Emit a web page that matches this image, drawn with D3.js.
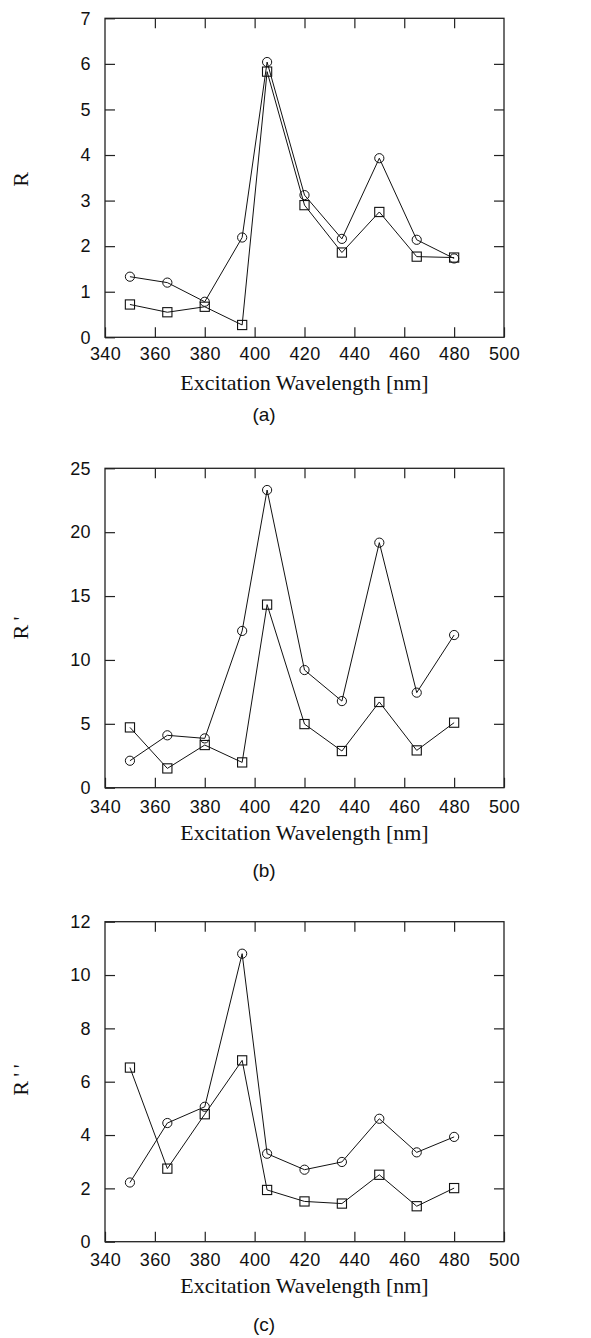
<!DOCTYPE html>
<html>
<head>
    <title>Excitation Wavelength</title>
    <script src="https://d3js.org/d3.v7.min.js"></script>
    <style>
        body { margin: 0; background: #fff; }
        svg { display: block; }
    </style>
</head>
<body>
    <script>
        // wavelengths shared by all three panels
        var wavelengths = [350, 365, 380, 395, 405, 420, 435, 450, 465, 480];
        var xTicks = [340, 360, 380, 400, 420, 440, 460, 480, 500];

        var circlesA = [1.33, 1.20, 0.78, 2.19, 6.04, 3.12, 2.16, 3.93, 2.14, 1.73];
        var squaresA = [0.72, 0.55, 0.67, 0.27, 5.83, 2.90, 1.86, 2.75, 1.77, 1.75];
        var yTicksA = [0, 1, 2, 3, 4, 5, 6, 7];

        var circlesB = [2.11, 4.10, 3.86, 12.27, 23.3, 9.21, 6.78, 19.18, 7.44, 11.95];
        var squaresB = [4.72, 1.51, 3.34, 1.98, 14.33, 4.98, 2.87, 6.71, 2.92, 5.09];
        var yTicksB = [0, 5, 10, 15, 20, 25];

        var circlesC = [2.22, 4.45, 5.06, 10.8, 3.30, 2.70, 2.99, 4.61, 3.35, 3.93];
        var squaresC = [6.53, 2.74, 4.78, 6.80, 1.94, 1.51, 1.43, 2.51, 1.33, 2.01];
        var yTicksC = [0, 2, 4, 6, 8, 10, 12];

        var yLabels = ["R", "R\u2009'", "R\u2009'\u2009'"];
        var captions = ["(a)", "(b)", "(c)"];
        var xTitle = "Excitation Wavelength [nm]";

        var width = 591, height = 1338;
        var left = 105, right = 504;

        var svg = d3.select("body").append("svg")
            .attr("width", width)
            .attr("height", height);

        // layout of each panel (pixel positions)
        var panels = [
            { c: circlesA, s: squaresA, ticks: yTicksA, top: 18.3, bottom: 337.3, padX: 9.5, titleY: 390, capY: 421, labelY: 179.5 },
            { c: circlesB, s: squaresB, ticks: yTicksB, top: 468.3, bottom: 787.7, padX: 13, titleY: 840, capY: 876.5, labelY: 628 },
            { c: circlesC, s: squaresC, ticks: yTicksC, top: 921.7, bottom: 1241.7, padX: 11.3, titleY: 1293, capY: 1331, labelY: 1080 }
        ];

        var x = d3.scaleLinear().domain([340, 500]).range([left, right]);

        function drawPanel(p, i) {
            var yMax = p.ticks[p.ticks.length - 1];
            var y = d3.scaleLinear().domain([0, yMax]).range([p.bottom, p.top]);
            var g = svg.append("g");

            var sans = "'Liberation Sans', Arial, Helvetica, sans-serif";
            var serif = "'Liberation Serif', 'Times New Roman', serif";

            // axes with inward ticks
            var bottomAxis = d3.axisBottom(x).tickValues(xTicks).tickFormat(d3.format("d"))
                .tickSizeInner(-10).tickSizeOuter(0).tickPadding(p.padX);
            var topAxis = d3.axisTop(x).tickValues(xTicks.slice(1, -1)).tickFormat("")
                .tickSizeInner(-10).tickSizeOuter(0);
            var leftAxis = d3.axisLeft(y).tickValues(p.ticks).tickFormat(d3.format("d"))
                .tickSizeInner(-10).tickSizeOuter(0).tickPadding(14);
            var rightAxis = d3.axisRight(y).tickValues(p.ticks.slice(1, -1)).tickFormat("")
                .tickSizeInner(-10).tickSizeOuter(0);

            [
                [bottomAxis, "translate(0," + p.bottom + ")"],
                [topAxis, "translate(0," + p.top + ")"],
                [leftAxis, "translate(" + left + ",0)"],
                [rightAxis, "translate(" + right + ",0)"]
            ].forEach(function (a) {
                var ax = g.append("g").attr("transform", a[1]).call(a[0]);
                ax.select(".domain").remove();
                ax.selectAll(".tick line").attr("stroke", "#222").attr("stroke-width", 1.2);
                ax.selectAll("text")
                    .attr("fill", "#111")
                    .style("font-family", sans)
                    .style("font-size", "18px")
                    .style("letter-spacing", "0.4px");
            });

            // frame
            g.append("rect")
                .attr("x", left).attr("y", p.top)
                .attr("width", right - left).attr("height", p.bottom - p.top)
                .attr("fill", "none").attr("stroke", "#222").attr("stroke-width", 1.3);

            var line = d3.line()
                .x(function (d, j) { return x(wavelengths[j]); })
                .y(function (d) { return y(d); });

            [p.c, p.s].forEach(function (vals) {
                g.append("path")
                    .datum(vals)
                    .attr("d", line)
                    .attr("fill", "none")
                    .attr("stroke", "#111")
                    .attr("stroke-width", 1);
            });

            g.selectAll(".circ").data(p.c).enter().append("circle")
                .attr("cx", function (d, j) { return x(wavelengths[j]); })
                .attr("cy", function (d) { return y(d); })
                .attr("r", 4.6)
                .attr("fill", "none").attr("stroke", "#111").attr("stroke-width", 1);

            g.selectAll(".sq").data(p.s).enter().append("rect")
                .attr("x", function (d, j) { return x(wavelengths[j]) - 4.6; })
                .attr("y", function (d) { return y(d) - 4.6; })
                .attr("width", 9.2).attr("height", 9.2)
                .attr("fill", "none").attr("stroke", "#111").attr("stroke-width", 1.1);

            // x title
            g.append("text")
                .attr("x", (left + right) / 2)
                .attr("y", p.titleY)
                .attr("text-anchor", "middle")
                .style("font-family", serif)
                .style("font-size", "22px")
                .attr("fill", "#111")
                .text(xTitle);

            // y label
            g.append("text")
                .attr("transform", "translate(20," + p.labelY + ") rotate(-90)")
                .attr("text-anchor", "middle")
                .attr("dy", "0.35em")
                .style("font-family", serif)
                .style("font-size", "22px")
                .attr("fill", "#111")
                .text(yLabels[i]);

            // caption
            g.append("text")
                .attr("x", 264)
                .attr("y", p.capY)
                .attr("text-anchor", "middle")
                .style("font-family", sans)
                .style("font-size", "19px")
                .attr("fill", "#111")
                .text(captions[i]);
        }

        panels.forEach(drawPanel);
    </script>
</body>
</html>
